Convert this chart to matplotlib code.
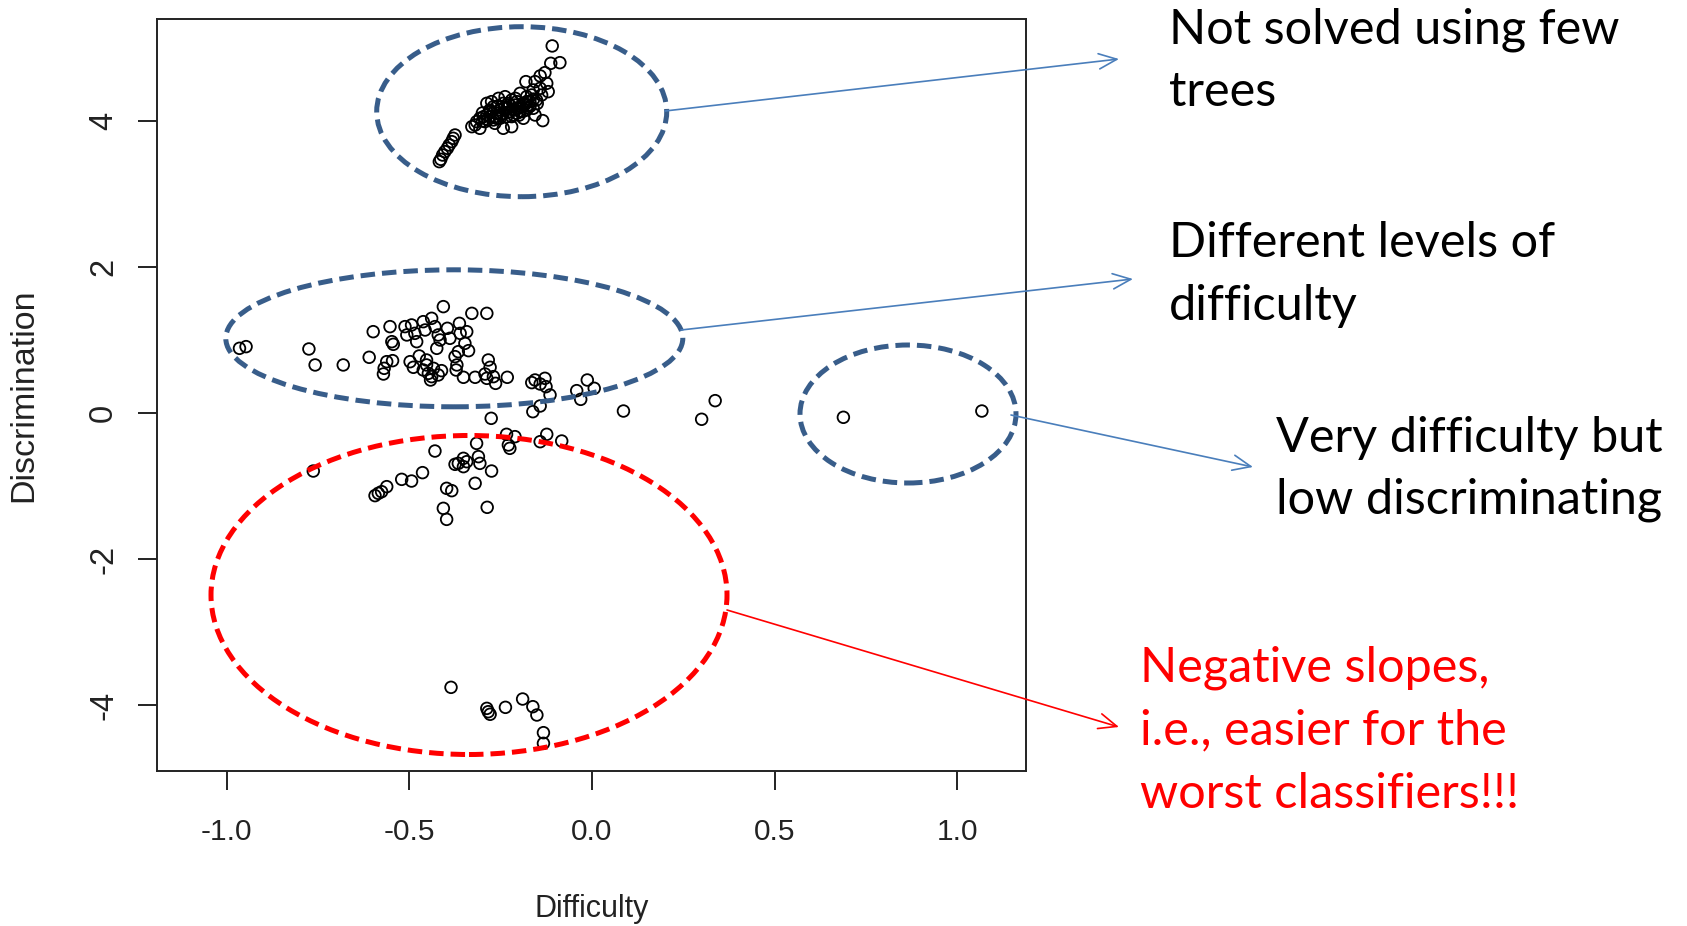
import matplotlib
matplotlib.use("Agg")
import matplotlib.pyplot as plt
from matplotlib.patches import Ellipse, FancyArrowPatch, ArrowStyle

# ---- item parameters: difficulty (x) vs discrimination (y) ----
top_x = [-0.109, -0.113, -0.088, -0.129, -0.142, -0.156, -0.181, -0.124, -0.142, -0.120,
         -0.161, -0.197, -0.179, -0.170, -0.188, -0.206, -0.225, -0.243, -0.234, -0.252,
         -0.270, -0.261, -0.279, -0.288, -0.297, -0.307, -0.316, -0.329, -0.320, -0.270,
         -0.252, -0.234, -0.215, -0.197, -0.179, -0.161, -0.156, -0.135, -0.243, -0.220,
         -0.288, -0.275, -0.256, -0.238, -0.220, -0.206, -0.188, -0.266, -0.293, -0.307,
         -0.247, -0.211, -0.193, -0.174, -0.279, -0.261, -0.225, -0.206, -0.243, -0.179,
         -0.152, -0.138, -0.165,
         -0.300, -0.285, -0.265, -0.250, -0.230, -0.215, -0.200, -0.185, -0.170, -0.240,
         -0.260, -0.280, -0.300, -0.220, -0.200, -0.190, -0.230, -0.210, -0.160, -0.150,
         -0.375, -0.380, -0.384, -0.391, -0.396, -0.403, -0.409, -0.414, -0.418]
top_y = [5.028, 4.790, 4.799, 4.662, 4.617, 4.539, 4.539, 4.516, 4.448, 4.402,
         4.425, 4.379, 4.333, 4.265, 4.242, 4.265, 4.219, 4.242, 4.174, 4.151,
         4.196, 4.105, 4.128, 4.082, 4.059, 4.037, 3.991, 3.922, 3.945, 4.014,
         4.037, 4.059, 4.082, 4.128, 4.151, 4.174, 4.082, 4.005, 3.900, 3.922,
         4.242, 4.265, 4.310, 4.333, 4.288, 4.174, 4.037, 3.968, 3.991, 3.900,
         4.196, 4.219, 4.196, 4.219, 4.059, 4.037, 4.128, 4.105, 4.105, 4.265,
         4.288, 4.356, 4.356,
         4.000, 4.020, 4.060, 4.080, 4.120, 4.150, 4.180, 4.220, 4.200, 4.180,
         4.200, 4.150, 4.110, 4.060, 4.080, 4.130, 4.240, 4.310, 4.300, 4.240,
         3.808, 3.763, 3.717, 3.671, 3.626, 3.580, 3.534, 3.475, 3.443]

mid_x = [-0.965, -0.947, -0.775, -0.758, -0.681, -0.610, -0.599, -0.571, -0.569, -0.562,
         -0.546, -0.553, -0.548, -0.544, -0.512, -0.507, -0.494, -0.485, -0.480, -0.462,
         -0.457, -0.439, -0.430, -0.421, -0.416, -0.407, -0.396, -0.389, -0.363, -0.361,
         -0.348, -0.343, -0.329, -0.288, -0.425, -0.498, -0.489, -0.473, -0.462, -0.453,
         -0.448, -0.442, -0.434, -0.421, -0.412, -0.453, -0.439, -0.375, -0.370, -0.366,
         -0.352, -0.338, -0.372, -0.320, -0.293, -0.284, -0.279, -0.270, -0.264, -0.232,
         -0.288, -0.165, -0.156, -0.142, -0.129, -0.126, -0.115, -0.142, -0.162, -0.042,
         -0.031, -0.013, 0.006, 0.086, -0.276]
mid_y = [0.886, 0.909, 0.877, 0.658, 0.658, 0.763, 1.114, 0.534, 0.612, 0.703,
         0.717, 1.183, 0.977, 0.941, 1.183, 1.069, 1.206, 1.091, 0.977, 1.251,
         1.137, 1.297, 1.183, 1.069, 1.000, 1.457, 1.160, 1.023, 1.228, 1.091,
         0.954, 1.114, 1.365, 1.365, 0.886, 0.703, 0.626, 0.781, 0.589, 0.658,
         0.543, 0.452, 0.612, 0.521, 0.580, 0.726, 0.498, 0.772, 0.658, 0.840,
         0.489, 0.854, 0.589, 0.489, 0.534, 0.726, 0.626, 0.498, 0.406, 0.489,
         0.475, 0.416, 0.452, 0.397, 0.475, 0.361, 0.247, 0.096, 0.018, 0.306,
         0.187, 0.452, 0.338, 0.027, -0.073]

low_x = [-0.234, -0.211, -0.229, -0.225, -0.316, -0.124, -0.142, -0.083, -0.763, -0.430,
         -0.375, -0.366, -0.352, -0.352, -0.343, -0.311, -0.307, -0.275, -0.594, -0.585,
         -0.576, -0.562, -0.521, -0.494, -0.464, -0.398, -0.384, -0.320, -0.407, -0.398,
         -0.287]
low_y = [-0.292, -0.324, -0.438, -0.484, -0.416, -0.292, -0.393, -0.384, -0.795, -0.521,
         -0.703, -0.690, -0.621, -0.735, -0.667, -0.598, -0.690, -0.795, -1.132, -1.100,
         -1.078, -1.009, -0.909, -0.932, -0.817, -1.032, -1.064, -0.963, -1.306, -1.457,
         -1.292]

right_x = [0.337, 0.300, 0.688, 1.067]
right_y = [0.169, -0.086, -0.059, 0.027]

neg_x = [-0.386, -0.288, -0.284, -0.279, -0.237, -0.190, -0.162, -0.151, -0.133, -0.133]
neg_y = [-3.758, -4.046, -4.092, -4.127, -4.032, -3.918, -4.023, -4.137, -4.379, -4.525]

x_ticks = [-1.0, -0.5, 0.0, 0.5, 1.0]
x_tick_labels = ["-1.0", "-0.5", "0.0", "0.5", "1.0"]
y_ticks = [-4, -2, 0, 2, 4]
y_tick_labels = ["-4", "-2", "0", "2", "4"]

W, H = 1687, 926
fig = plt.figure(figsize=(W / 100, H / 100), dpi=100)
fig.patch.set_facecolor("white")

# axes box in pixel units
L, R, T, B = 156.7, 1025.7, 19.0, 771.0
ax = fig.add_axes([L / W, 1 - B / H, (R - L) / W, (B - T) / H])
ax.set_xlim(-1.1916, 1.187)
ax.set_ylim(-4.904, 5.397)

all_x = top_x + mid_x + low_x + right_x + neg_x
all_y = top_y + mid_y + low_y + right_y + neg_y
ax.scatter(all_x, all_y, s=70, facecolors="none", edgecolors="black",
           linewidths=1.3, zorder=3)

axis_font = "Liberation Sans"
ink = "#222222"
ax.set_xticks(x_ticks)
ax.set_xticklabels(x_tick_labels, fontsize=21.5, family=axis_font, color=ink)
ax.set_yticks(y_ticks)
ax.set_yticklabels(y_tick_labels, fontsize=23.5, family=axis_font, color=ink)
ax.tick_params(axis="both", direction="out", length=13.7, width=1.4, color=ink)
ax.tick_params(axis="x", pad=20)
ax.tick_params(axis="y", pad=24.5, labelrotation=90)
for lab in ax.get_yticklabels():
    lab.set_ha("center")
    lab.set_va("center")
for sp in ax.spines.values():
    sp.set_linewidth(1.4)
    sp.set_color(ink)

ax.set_xlabel("Difficulty", fontsize=22, family=axis_font, color=ink)
ax.xaxis.set_label_coords(0.5, -(909 - B) / (B - T))
ax.xaxis.label.set_va("center")
ax.set_ylabel("Discrimination", fontsize=24.5, family=axis_font, color=ink)
ax.yaxis.set_label_coords((24 - L) / (R - L), 0.5)
ax.yaxis.label.set_va("center")


def fx(px):
    return px / W


def fy(py):
    return 1 - py / H


blue_ring = "#385d8a"
red_ring = "#ff0000"
rings = [
    (521.7, 111.7, 290, 170, blue_ring),
    (454.3, 338.3, 457, 137, blue_ring),
    (908.0, 414.0, 216, 138, blue_ring),
    (469.0, 595.0, 516, 319, red_ring),
]
for cx, cy, w, h, col in rings:
    e = Ellipse((fx(cx), fy(cy)), w / W, h / H, transform=fig.transFigure,
                fill=False, edgecolor=col, linewidth=3.6,
                linestyle=(0, (2.9, 1.4)), zorder=5)
    fig.add_artist(e)

arrow_blue = "#4a7ebb"
arrows = [
    ((665, 111), (1119, 59), arrow_blue),
    ((681, 330), (1133, 279), arrow_blue),
    ((1011, 415), (1253, 467), arrow_blue),
    ((727, 610), (1119, 727), red_ring),
]
for (x0, y0), (x1, y1), col in arrows:
    a = FancyArrowPatch((fx(x0), fy(y0)), (fx(x1), fy(y1)), transform=fig.transFigure,
                        arrowstyle=ArrowStyle("->", head_length=13, head_width=5.5),
                        color=col, linewidth=1.2, shrinkA=0, shrinkB=0, zorder=6)
    fig.add_artist(a)

note_font = "Lato"
note_size = 35
notes = [
    (1169, 43, "Not solved using few", "black"),
    (1169, 106, "trees", "black"),
    (1169, 257, "Different levels of", "black"),
    (1169, 320, "difficulty", "black"),
    (1276, 452, "Very difficulty but", "black"),
    (1276, 514, "low discriminating", "black"),
    (1140, 681, "Negative slopes,", red_ring),
    (1140, 744, "i.e., easier for the", red_ring),
    (1140, 808, "worst classifiers!!!", red_ring),
]
for px, py, txt, col in notes:
    fig.text(fx(px), fy(py), txt, ha="left", va="baseline", fontsize=note_size,
             family=note_font, color=col)

fig.savefig("out.png", dpi=100, facecolor="white")
